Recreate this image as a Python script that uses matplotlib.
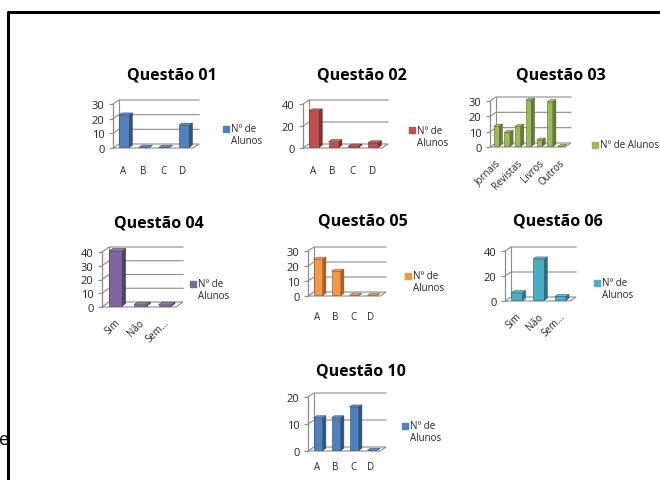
import numpy as np
import matplotlib.pyplot as plt
from matplotlib.patches import Polygon
from matplotlib.lines import Line2D
from matplotlib.colors import to_rgb

plt.rcParams['font.family'] = ['Open Sans', 'DejaVu Sans']

W, H = 660, 481

# respostas por questão (Nº de Alunos)
q01_labels = ["A", "B", "C", "D"]
q01_values = [22, 0, 0, 15]

q02_labels = ["A", "B", "C", "D"]
q02_values = [33, 5, 1, 4]

q03_labels = ["Jornais", "", "Revistas", "", "Livros", "", "Outros"]
q03_values = [13, 9, 13, 30, 4, 29, 0]

q04_labels = ["Sim", "Não", "Sem..."]
q04_values = [40, 1, 1]

q05_labels = ["A", "B", "C", "D"]
q05_values = [24, 16, 0, 0]

q06_labels = ["Sim", "Não", "Sem..."]
q06_values = [6, 33, 3]

q10_labels = ["A", "B", "C", "D"]
q10_values = [12, 12, 16, 0]

legend_label = "Nº de Alunos"

GRID = "#8c8c8c"
TEXT = "#262626"


def px(x, y):
    return x / W, 1 - y / H


def tint(color, k):
    r, g, b = to_rgb(color)
    if k <= 1:
        return (r * k, g * k, b * k)
    t = k - 1
    return (r + (1 - r) * t, g + (1 - g) * t, b + (1 - b) * t)


def panel(fig, box, labels, values, color, ymax, ystep, rot=False, depth=(6, 4), pad=10):
    left, zero, right, top = box
    ax = fig.add_axes([left / W, 1 - zero / H, (right - left) / W, (zero - top) / H])
    n = len(labels)
    x = np.arange(n)
    ddx = depth[0] * n / (right - left)
    ddy = depth[1] * ymax / (zero - top)
    ax.set_xlim(-0.5, n - 0.5)
    ax.set_ylim(0, ymax)
    for s in ax.spines.values():
        s.set_visible(False)

    # floor and walls
    floor = Polygon([(-0.5, 0), (n - 0.5, 0), (n - 0.5 + ddx, ddy), (-0.5 + ddx, ddy)],
                    closed=True, facecolor="white", edgecolor=GRID, lw=0.8, clip_on=False)
    ax.add_patch(floor)
    ticks = np.arange(0, ymax + 1, ystep)
    for v in ticks[1:]:
        ax.plot([-0.5, -0.5 + ddx, n - 0.5 + ddx], [v, v + ddy, v + ddy],
                color=GRID, lw=0.8, clip_on=False)
    ax.plot([-0.5 + ddx, -0.5 + ddx], [ddy, ymax + ddy], color=GRID, lw=0.8, clip_on=False)
    ax.plot([-0.5, -0.5], [0, ymax], color=GRID, lw=0.9, clip_on=False)

    # columns: front face, side face and top face
    bw = 0.52
    ox, oy = 0.2 * ddx, 0.2 * ddy
    bx, by = 0.5 * ddx, 0.5 * ddy
    edge = tint(color, 0.55)
    ax.bar(x + ox, values, width=bw, bottom=oy, color=color, edgecolor=edge,
           linewidth=0.4, clip_on=False, zorder=3)
    for xi, v in zip(x, values):
        x0 = xi + ox - bw / 2
        x1 = xi + ox + bw / 2
        y0, y1 = oy, oy + v
        side = Polygon([(x1, y0), (x1 + bx, y0 + by), (x1 + bx, y1 + by), (x1, y1)],
                       closed=True, facecolor=tint(color, 0.65), edgecolor=edge, lw=0.4,
                       clip_on=False, zorder=3)
        cap = Polygon([(x0, y1), (x1, y1), (x1 + bx, y1 + by), (x0 + bx, y1 + by)],
                      closed=True, facecolor=tint(color, 1.15), edgecolor=edge, lw=0.4,
                      clip_on=False, zorder=3)
        ax.add_patch(side)
        ax.add_patch(cap)

    ax.set_yticks(ticks)
    ax.tick_params(axis="y", length=3, color=GRID, labelsize=8, pad=3, labelcolor=TEXT)
    ax.set_xticks(x)
    if rot:
        ax.set_xticklabels(labels, rotation=45, ha="right", rotation_mode="anchor")
        ax.tick_params(axis="x", length=0, labelsize=7, pad=7, labelcolor=TEXT)
    else:
        ax.set_xticklabels(labels)
        ax.tick_params(axis="x", length=0, labelsize=7, pad=pad, labelcolor=TEXT)
    ax.set_facecolor("none")
    return ax


def title(fig, text, cx, cy):
    fig.text(*px(cx, cy), text, fontsize=11.5, fontweight="bold", ha="center", va="center")


def legend(fig, color, x, y, one_line=False):
    fig.add_artist(Line2D([x / W], [1 - y / H], marker="s", markersize=4,
                          color=color, linestyle="none"))
    if one_line:
        fig.text(*px(x + 5, y), legend_label, fontsize=7, va="center", ha="left", color=TEXT)
    else:
        fig.text(*px(x + 5, y), "Nº de", fontsize=7, va="center", ha="left", color=TEXT)
        fig.text(*px(x + 5, y + 12), "Alunos", fontsize=7, va="center", ha="left", color=TEXT)


fig = plt.figure(figsize=(6.6, 4.81), dpi=100)

blue, red, green = "#4F81BD", "#C0504D", "#9BBB59"
purple, orange, aqua = "#8064A2", "#F79646", "#4BACC6"

title(fig, "Questão 01", 172, 75)
panel(fig, (113, 149, 193, 105), q01_labels, q01_values, blue, 30, 10, pad=12)
legend(fig, blue, 226, 130)

title(fig, "Questão 02", 362, 75)
panel(fig, (303, 149, 382, 105), q02_labels, q02_values, red, 40, 20, pad=12)
legend(fig, red, 412, 131)

title(fig, "Questão 03", 561, 76)
panel(fig, (490, 148, 565, 102), q03_labels, q03_values, green, 30, 10, rot=True)
legend(fig, green, 595, 146, one_line=True)

title(fig, "Questão 04", 159, 223)
panel(fig, (102, 308, 176, 253), q04_labels, q04_values, purple, 40, 10, rot=True, depth=(7, 5))
legend(fig, purple, 193, 285)

title(fig, "Questão 05", 363, 222)
panel(fig, (308, 297, 380, 252), q05_labels, q05_values, orange, 30, 10, pad=11)
legend(fig, orange, 408, 277)

title(fig, "Questão 06", 558, 222)
panel(fig, (505, 302, 570, 252), q06_labels, q06_values, aqua, 40, 20, rot=True)
legend(fig, aqua, 597, 284)

title(fig, "Questão 10", 361, 372)
panel(fig, (308, 452, 380, 398), q10_labels, q10_values, blue, 20, 10, pad=7)
legend(fig, blue, 405, 427)

# page frame
fig.add_artist(Line2D([8 / W, 8 / W, 1.0], [0, 1 - 13 / H, 1 - 13 / H],
                      color="black", lw=2.2))
fig.text(*px(-1, 440), "e", fontsize=13, va="center", ha="left")

fig.savefig("out.png", dpi=100)
